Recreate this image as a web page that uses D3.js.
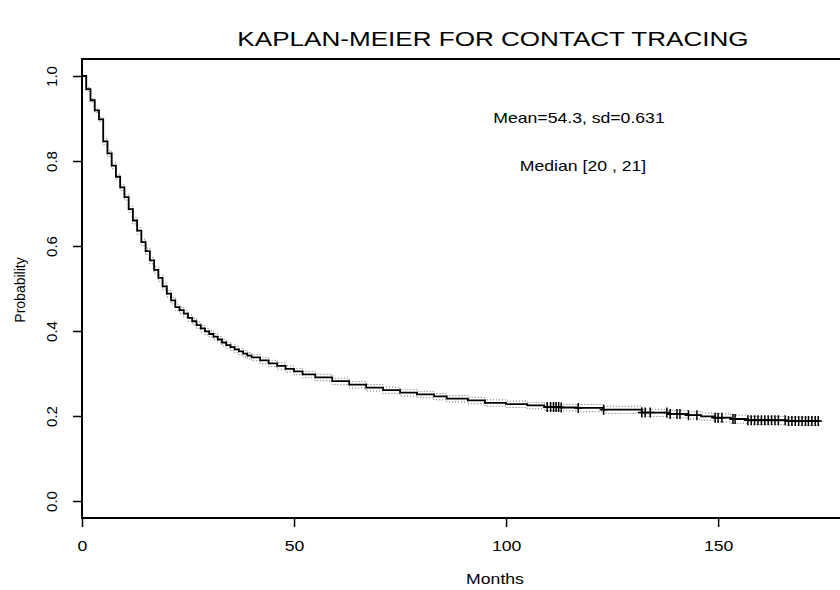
<!DOCTYPE html>
<html>
<head>
<meta charset="utf-8">
<script src="https://cdn.jsdelivr.net/npm/d3@7"></script>
<style>
  body { margin: 0; background: #fff; }
  text { font-family: "Liberation Sans", Arial, sans-serif; fill: #000; }
</style>
</head>
<body>
<div id="chart-area"></div>
<script>

let width = 840,
height = 590;

// Kaplan-Meier estimate (months, survival, 95% band)
let times = [0,1,2,3,4,5,6,7,8,9,10,11,12,13,14,15,16,17,18,19,20,21,22,23,24,25,26,27,28,29,30,31,32,33,34,35,36,37,38,39,40,
	42,44,46,48,50,52,55,59,63,67,71,75,79,83,86,91,95,100,105,109,113,117,123,132,138,143,146,149,153,157,166,174];

let surv = [1.000,0.969,0.943,0.919,0.898,0.846,0.818,0.789,0.763,0.738,0.715,0.687,0.660,0.636,0.609,0.588,0.566,0.544,0.525,0.505,0.488,0.472,0.456,
	0.449,0.441,0.431,0.423,0.414,0.406,0.399,0.393,0.387,0.380,0.373,0.367,0.362,0.357,0.352,0.347,0.342,0.338,
	0.331,0.324,0.318,0.311,0.305,
	0.298,0.291,0.282,0.274,0.267,0.261,0.255,0.251,0.246,0.241,0.237,0.231,0.228,0.225,0.221,0.220,
	0.219,0.215,0.208,0.205,0.202,0.199,
	0.196,0.193,0.190,0.188,0.188];

let ciUpper = [1.000,0.973,0.947,0.923,0.902,0.852,0.824,0.795,0.769,0.744,0.721,
	0.694,0.667,0.643,0.616,0.595,0.573,0.551,0.532,0.512,0.495,0.479,0.463,
	0.456,0.448,0.438,0.430,0.421,0.413,0.406,0.400,0.394,0.387,0.380,0.374,0.369,0.364,0.359,0.354,0.349,0.345,
	0.338,0.331,0.325,0.318,0.312,
	0.305,0.298,0.289,0.281,0.274,0.268,0.262,0.258,0.253,0.248,0.244,0.238,0.235,0.232,0.228,0.227,
	0.227,0.223,0.216,0.213,0.210,0.207,
	0.205,0.202,0.199,0.197,0.197];

let ciLower = [1.000,0.964,0.938,0.914,0.893,0.839,0.811,0.782,0.756,0.731,0.708,
	0.679,0.652,0.628,0.601,0.580,0.558,0.536,0.517,0.497,0.480,0.464,0.448,
	0.441,0.433,0.423,0.415,0.406,0.398,0.391,0.385,0.379,0.372,0.365,0.359,0.354,0.349,0.344,0.339,0.334,0.330,
	0.323,0.316,0.310,0.303,0.297,
	0.290,0.283,0.274,0.266,0.259,0.253,0.247,0.243,0.238,0.233,0.229,0.223,0.220,0.217,0.213,0.212,
	0.210,0.206,0.199,0.196,0.193,0.190,
	0.186,0.183,0.180,0.178,0.178];

// censored observations (months)
let censored = [109.7,110.5,111.2,111.8,112.4,113,117,123,132,132.8,134,137.9,138.7,140.3,141,143,145,
	149.3,150,150.9,153.5,154,157,157.8,158.6,159.4,160.2,161,161.8,162.6,163.4,164.2,
	165.8,166.6,167.4,168.2,169,169.8,170.6,171.3,172.1,172.9,173.6];

let xTicks = [0, 50, 100, 150];
let yTicks = [0.0, 0.2, 0.4, 0.6, 0.8, 1.0];

let title = "KAPLAN-MEIER FOR CONTACT TRACING";
let notes = ["Mean=54.3, sd=0.631", "Median [20 , 21]"];

let box = {left: 82, right: 906, top: 59, bottom: 518};
let stretch = 1.26; // the lettering of the original is wide

let svg = d3.select("#chart-area").append("svg")
.attr("width", width)
.attr("height", height);

let x = d3.scaleLinear()
	.domain([0, 194.3])
	.range([box.left, box.right]);

let y = d3.scaleLinear()
	.domain([-0.04, 1.04])
	.range([box.bottom, box.top]);

let km = times.map((t, i) => ({t: t, s: surv[i], hi: ciUpper[i], lo: ciLower[i]}));

let step = (key) => d3.line()
	.x(d => x(d.t))
	.y(d => y(d[key]))
	.curve(d3.curveStepAfter);

// confidence band (dotted)
["hi", "lo"].forEach(k => {
	svg.append("path")
		.datum(km)
		.attr("d", step(k))
		.attr("fill", "none")
		.attr("stroke", "#666")
		.attr("stroke-width", 1)
		.attr("stroke-dasharray", "1,2");
});

// survival curve
svg.append("path")
	.datum(km)
	.attr("d", step("s"))
	.attr("fill", "none")
	.attr("stroke", "#000")
	.attr("stroke-width", 1.8);

// censor marks
let bisect = d3.bisector(d => d.t).right;
svg.selectAll(".censor")
	.data(censored)
	.enter().append("path")
	.attr("class", "censor")
	.attr("transform", d => "translate(" + x(d) + "," + y(km[bisect(km, d) - 1].s) + ")")
	.attr("d", "M-4,0H4M0,-5V5")
	.attr("stroke", "#000")
	.attr("stroke-width", 1.5);

// frame
svg.append("rect")
	.attr("x", box.left)
	.attr("y", box.top)
	.attr("width", box.right - box.left)
	.attr("height", box.bottom - box.top)
	.attr("fill", "none")
	.attr("stroke", "#000")
	.attr("stroke-width", 2);

// axes
let xAxis = svg.append("g")
	.attr("transform", "translate(0," + box.bottom + ")")
	.call(d3.axisBottom(x).tickValues(xTicks).tickSize(9).tickFormat(d3.format("d")));

let yAxis = svg.append("g")
	.attr("transform", "translate(" + box.left + ",0)")
	.call(d3.axisLeft(y).tickValues(yTicks).tickSize(9).tickFormat(d3.format(".1f")));

[xAxis, yAxis].forEach(g => {
	g.select(".domain").remove();
	g.selectAll(".tick line").attr("stroke", "#000").attr("stroke-width", 1.5);
});

xAxis.selectAll(".tick text")
	.attr("y", 0).attr("dy", 0)
	.attr("transform", "translate(0,33) scale(" + stretch + ",1)")
	.style("font-size", "14px");

yAxis.selectAll(".tick text")
	.attr("x", 0).attr("dy", 0)
	.attr("text-anchor", "middle")
	.attr("transform", "translate(-25,0) rotate(-90)")
	.style("font-size", "15px");

// titles
function label(txt, px, py, size, rot) {
	svg.append("text")
		.attr("text-anchor", "middle")
		.attr("transform", "translate(" + px + "," + py + ")" + (rot ? " rotate(-90)" : " scale(" + stretch + ",1)"))
		.style("font-size", size + "px")
		.text(txt);
}

label(title, 493, 46, 20.7);
label("Months", 495, 584, 14);
label("Probability", 25, 290, 14, true);
label(notes[0], 579, 123, 14);
label(notes[1], 583, 171, 14);

</script>
</body>
</html>
